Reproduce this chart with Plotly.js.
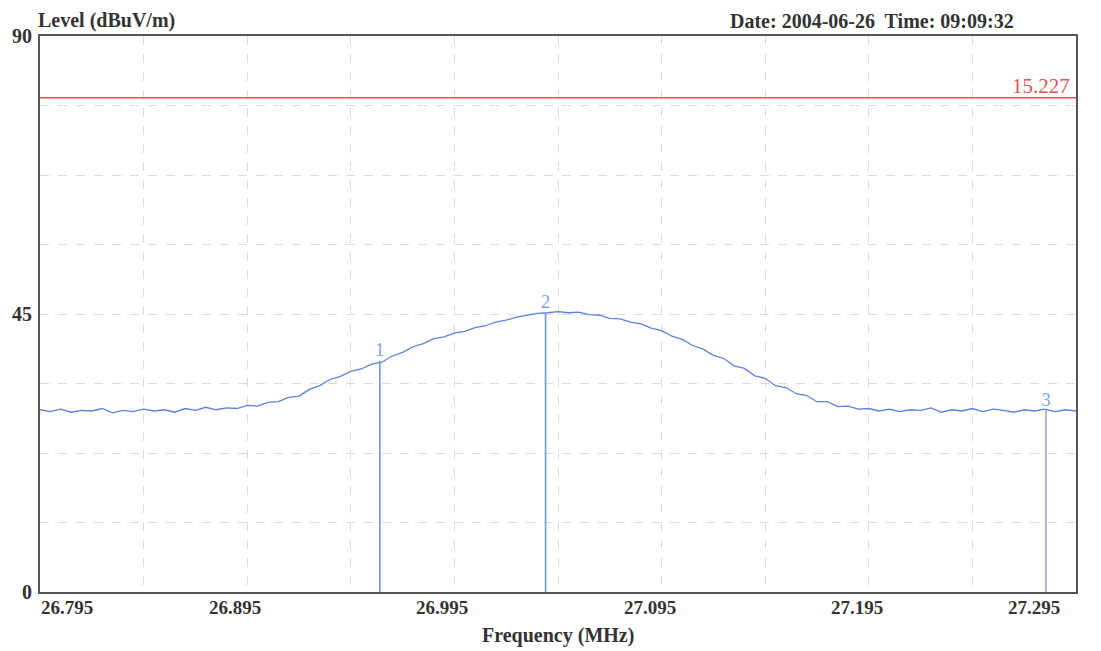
<!DOCTYPE html>
<html>
<head>
<meta charset="utf-8">
<script src="https://cdn.plot.ly/plotly-3.0.1.min.js"></script>
<style>html,body{margin:0;padding:0;background:#fff;}#chart{width:1101px;height:651px;}</style>
</head>
<body>
<div id="chart"></div>
<script>
// ---- data ----
const freqMHz = [
26.795,26.800,26.805,26.810,26.815,26.820,26.825,26.830,26.835,26.840,
26.845,26.850,26.855,26.860,26.865,26.870,26.875,26.880,26.885,26.890,
26.895,26.900,26.905,26.910,26.915,26.920,26.925,26.930,26.935,26.940,
26.945,26.950,26.955,26.960,26.965,26.970,26.975,26.980,26.985,26.990,
26.995,27.000,27.005,27.010,27.015,27.020,27.025,27.030,27.035,27.040,
27.045,27.050,27.055,27.060,27.065,27.070,27.075,27.080,27.085,27.090,
27.095,27.100,27.105,27.110,27.115,27.120,27.125,27.130,27.135,27.140,
27.145,27.150,27.155,27.160,27.165,27.170,27.175,27.180,27.185,27.190,
27.195,27.200,27.205,27.210,27.215,27.220,27.225,27.230,27.235,27.240,
27.245,27.250,27.255,27.260,27.265,27.270,27.275,27.280,27.285,27.290,
27.295];
const levelDBuV = [
29.5,29.2,29.6,29.1,29.4,29.3,29.7,29.0,29.4,29.2,
29.6,29.3,29.5,29.1,29.7,29.4,29.9,29.5,29.8,29.7,
30.2,30.1,30.7,30.8,31.5,31.7,32.8,33.4,34.4,34.9,
35.7,36.1,36.9,37.2,38.2,38.8,39.7,40.2,41.0,41.3,
41.9,42.2,42.8,43.1,43.7,44.0,44.5,44.8,45.1,45.2,
45.4,45.2,45.3,44.9,44.8,44.3,44.2,43.7,43.4,42.7,
42.3,41.4,40.9,39.9,39.3,38.3,37.8,36.6,36.2,35.0,
34.6,33.4,33.1,32.1,31.8,30.8,30.8,30.0,30.1,29.6,
29.7,29.3,29.6,29.2,29.5,29.4,29.8,29.1,29.5,29.3,
29.7,29.2,29.6,29.4,29.1,29.5,29.3,29.6,29.2,29.5,
29.3];
const markerNames = ["1","2","3"];
const markerFreq = [26.959, 27.039, 27.2805];
const markerLevel = [37.4, 45.2, 29.4];
const limitLevel = 80;
const limitLabel = "15.227";
const xTickVals = [26.795,26.845,26.895,26.945,26.995,27.045,27.095,27.145,27.195,27.245,27.295];
const xTickText = ["26.795","","26.895","","26.995","","27.095","","27.195","","27.295"];
const yTickVals = [0,11.25,22.5,33.75,45,56.25,67.5,78.75,90];
const yTickText = ["0","","","","45","","","","90"];
const yTitle = "Level (dBuV/m)";
const xTitle = "Frequency (MHz)";
const stamp = "Date: 2004-06-26  Time: 09:09:32";

// ---- styles ----
const serif = "Liberation Serif, Times New Roman, serif";
const traceColor = "#5b82e0";
const markerColors = ["#6d9ae6","#6d9ae6","#a9a3dc"];

const traces = [];
traces.push({x: freqMHz, y: levelDBuV, type: "scatter", mode: "lines",
  line: {color: traceColor, width: 1.3}, hoverinfo: "x+y", showlegend: false});
markerNames.forEach((n, i) => {
  traces.push({x: [markerFreq[i], markerFreq[i]], y: [0, markerLevel[i]], type: "scatter",
    mode: "lines", line: {color: markerColors[i], width: 1.6}, showlegend: false, hoverinfo: "skip"});
  traces.push({x: [markerFreq[i]], y: [markerLevel[i]], type: "scatter", mode: "text",
    text: [n], textposition: "top center", textfont: {family: serif, size: 19, color: "#7fa4e4"},
    showlegend: false, hoverinfo: "skip"});
});
traces.push({x: [freqMHz[0], freqMHz[freqMHz.length-1]], y: [limitLevel, limitLevel], type: "scatter",
  mode: "lines", line: {color: "#ec4d4d", width: 1.6}, showlegend: false, hoverinfo: "skip"});

const annotations = [];
xTickVals.forEach((v, i) => {
  if (!xTickText[i]) return;
  let anchor = "center", shift = -12;
  if (i === 0) { anchor = "left"; shift = -1; }
  if (i === xTickVals.length - 1) { anchor = "right"; shift = -14; }
  annotations.push({x: v, y: 0, xref: "x", yref: "paper", yanchor: "top", xanchor: anchor,
    xshift: shift, yshift: -3, text: "<b>" + xTickText[i] + "</b>", showarrow: false,
    font: {family: serif, size: 19, color: "#333"}});
});
annotations.push({x: 0.5, y: 0, xref: "paper", yref: "paper", yanchor: "top", xanchor: "center",
  yshift: -30, text: "<b>" + xTitle + "</b>", showarrow: false, font: {family: serif, size: 20, color: "#333"}});
annotations.push({x: 0, y: 1, xref: "paper", yref: "paper", yanchor: "bottom", xanchor: "left",
  xshift: -4, yshift: 2, text: "<b>" + yTitle + "</b>", showarrow: false, font: {family: serif, size: 20, color: "#333"}});
annotations.push({x: 1, y: 1, xref: "paper", yref: "paper", yanchor: "bottom", xanchor: "right",
  xshift: -60, yshift: 2, text: "<b>" + stamp + "</b>", showarrow: false, font: {family: serif, size: 20, color: "#333"}});
annotations.push({x: freqMHz[freqMHz.length-1], y: limitLevel, xref: "x", yref: "y", yanchor: "bottom",
  xanchor: "right", xshift: -4, yshift: -2, text: limitLabel, showarrow: false,
  font: {family: serif, size: 21, color: "#e85050"}});

const layout = {
  width: 1101, height: 651,
  margin: {l: 40, r: 25, t: 36, b: 59},
  paper_bgcolor: "#fff", plot_bgcolor: "#fff",
  showlegend: false,
  xaxis: {range: [26.795, 27.295], tickvals: xTickVals, ticktext: xTickText, showticklabels: false,
    showgrid: true, gridcolor: "#dcdcdc", griddash: "dash", gridwidth: 1, zeroline: false,
    showline: true, linecolor: "#555", linewidth: 2, mirror: true, ticks: ""},
  yaxis: {range: [0, 90], tickvals: yTickVals, ticktext: yTickText, showgrid: true,
    gridcolor: "#dcdcdc", griddash: "dash", gridwidth: 1, zeroline: false,
    showline: true, linecolor: "#555", linewidth: 2, mirror: true, ticks: "",
    tickfont: {family: serif, size: 20, color: "#333", weight: "bold"}, ticklabelstandoff: 2},
  annotations: annotations
};
Plotly.newPlot("chart", traces, layout, {staticPlot: true, displayModeBar: false});
</script>
</body>
</html>
